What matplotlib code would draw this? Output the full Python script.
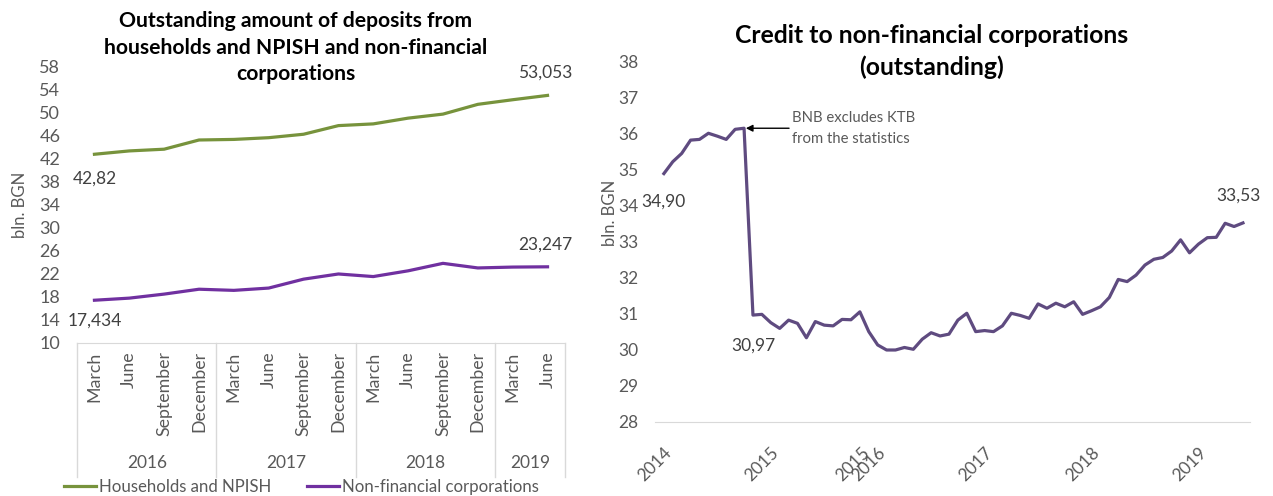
import matplotlib.pyplot as plt
import matplotlib.transforms as mtransforms
import numpy as np

plt.rcParams['font.family'] = ['Lato', 'DejaVu Sans']

# quarterly deposits, bln. BGN
quarters = ['March', 'June', 'September', 'December'] * 3 + ['March', 'June']
years = ['2016', '2017', '2018', '2019']
year_sizes = [4, 4, 4, 2]
households = [42.82, 43.4, 43.7, 45.3, 45.4, 45.7, 46.3, 47.8, 48.1, 49.1, 49.8, 51.5, 52.3, 53.053]
nfc_deposits = [17.434, 17.8, 18.5, 19.35, 19.15, 19.55, 21.1, 22.0, 21.55, 22.55, 23.85, 23.05, 23.2, 23.247]

# monthly credit to non-financial corporations, Jan 2014 - Jun 2019
credit_nfc = [34.90, 35.23, 35.46, 35.83, 35.85, 36.02, 35.94, 35.85, 36.13, 36.16,
              30.97, 30.99, 30.76, 30.60, 30.83, 30.74, 30.34, 30.79, 30.69, 30.67,
              30.85, 30.84, 31.06, 30.51, 30.14, 30.00, 30.00, 30.07, 30.02, 30.30,
              30.48, 30.39, 30.44, 30.83, 31.02, 30.51, 30.54, 30.51, 30.67, 31.02,
              30.96, 30.88, 31.28, 31.16, 31.30, 31.20, 31.34, 30.99, 31.09, 31.20,
              31.46, 31.96, 31.90, 32.08, 32.36, 32.52, 32.57, 32.75, 33.06, 32.70,
              32.94, 33.12, 33.13, 33.52, 33.43, 33.53]
credit_ticks = [0, 12, 22.2, 24, 36, 48, 60]
credit_tick_labels = ['2014', '2015', '2015', '2016', '2017', '2018', '2019']
break_idx = 9

GREEN = '#77933c'
PURPLE = '#7030a0'
DARK_PURPLE = '#5f4b80'
GRAY = '#595959'
LABEL = '#404040'
GRID = '#d9d9d9'


def comma(v, nd):
    return f'{v:.{nd}f}'.replace('.', ',')


fig = plt.figure(figsize=(12.73, 4.96), dpi=100)

# ---- left: deposits
ax1 = fig.add_axes([0.0605, 0.3085, 0.3833, 0.5565])
x = np.arange(len(households))
ax1.plot(x, households, color=GREEN, lw=2.3, label='Households and NPISH')
ax1.plot(x, nfc_deposits, color=PURPLE, lw=2.3, label='Non-financial corporations')
ax1.set_xlim(-0.5, len(households) - 0.5)
ax1.set_ylim(10, 58)
ax1.set_yticks(np.arange(10, 59, 4))
ax1.set_xticks(x)
ax1.set_xticklabels(quarters, rotation=90, va='top', ha='center')
ax1.tick_params(axis='x', length=0, pad=6, labelsize=12.8, labelcolor=GRAY)
ax1.tick_params(axis='y', length=0, pad=12, labelsize=13, labelcolor=GRAY)
for s in ['top', 'right', 'left']:
    ax1.spines[s].set_visible(False)
ax1.spines['bottom'].set_color(GRID)

trans = mtransforms.blended_transform_factory(ax1.transData, ax1.transAxes)
edges = np.concatenate([[0], np.cumsum(year_sizes)]) - 0.5
for e in edges:
    ax1.plot([e, e], [0, -0.485], transform=trans, color=GRID, lw=1, clip_on=False)
for yr, a, b in zip(years, edges[:-1], edges[1:]):
    ax1.text((a + b) / 2, -0.435, yr, transform=trans, ha='center', va='center',
             fontsize=12.5, color=GRAY)

ax1.annotate(comma(households[0], 2), (x[0], households[0]),
             xytext=(0, -24), textcoords='offset pixels', ha='center', va='center',
             fontsize=12.5, color=LABEL)
ax1.annotate(comma(households[-1], 3), (x[-1], households[-1]),
             xytext=(-2, 23), textcoords='offset pixels', ha='center', va='center',
             fontsize=12.5, color=LABEL)
ax1.annotate(comma(nfc_deposits[0], 3), (x[0], nfc_deposits[0]),
             xytext=(0, -20), textcoords='offset pixels', ha='center', va='center',
             fontsize=12.5, color=LABEL)
ax1.annotate(comma(nfc_deposits[-1], 3), (x[-1], nfc_deposits[-1]),
             xytext=(-2, 22), textcoords='offset pixels', ha='center', va='center',
             fontsize=12.5, color=LABEL)

fig.text(0.2321, 0.904, 'Outstanding amount of deposits from\nhouseholds and NPISH and non-financial\ncorporations',
         ha='center', va='center', fontsize=15.2, fontweight='bold', linespacing=1.42)
fig.text(20 / 1273, 1 - 205 / 496, 'bln. BGN', rotation=90, ha='center', va='center',
         fontsize=12, color=GRAY)
fig.legend(loc='center', bbox_to_anchor=(0.237, 0.018), ncol=2, frameon=False,
           fontsize=12.1, handlelength=1.9, columnspacing=2.1, handletextpad=0.2,
           labelcolor=GRAY)

# ---- right: credit
ax2 = fig.add_axes([0.5145, 0.1492, 0.4675, 0.7258])
m = np.arange(len(credit_nfc))
ax2.plot(m, credit_nfc, color=DARK_PURPLE, lw=2.3)
ax2.set_xlim(-1.0, len(credit_nfc) - 0.2)
ax2.set_ylim(28, 38)
ax2.set_yticks(np.arange(28, 39, 1))
ax2.set_xticks(credit_ticks)
ax2.set_xticklabels(credit_tick_labels, rotation=45, ha='right', va='top', rotation_mode='anchor')
ax2.tick_params(axis='x', length=0, pad=16, labelsize=12.5, labelcolor=GRAY)
ax2.tick_params(axis='y', length=0, pad=12, labelsize=12.5, labelcolor=GRAY)
for s in ['top', 'right', 'left']:
    ax2.spines[s].set_visible(False)
ax2.spines['bottom'].set_color(GRID)

last = len(credit_nfc) - 1
ax2.annotate(comma(credit_nfc[0], 2), (m[0], credit_nfc[0]),
             xytext=(0, -28), textcoords='offset pixels', ha='center', va='center',
             fontsize=12.5, color=LABEL)
ax2.annotate(comma(credit_nfc[break_idx + 1], 2), (m[break_idx + 1], credit_nfc[break_idx + 1]),
             xytext=(0, -31), textcoords='offset pixels', ha='center', va='center',
             fontsize=12.5, color=LABEL)
ax2.annotate(comma(credit_nfc[last], 2), (m[last], credit_nfc[last]),
             xytext=(-4, 27), textcoords='offset pixels', ha='center', va='center',
             fontsize=12.5, color=LABEL)
ax2.annotate('BNB excludes KTB\nfrom the statistics', (m[break_idx] + 0.2, credit_nfc[break_idx]),
             xytext=(46, 0), textcoords='offset pixels', ha='left', va='center',
             fontsize=10.7, color=GRAY, linespacing=1.6,
             arrowprops=dict(arrowstyle='-|>', color='black', lw=1, shrinkA=0, shrinkB=0,
                             mutation_scale=10))

fig.text(0.7317, 0.896, 'Credit to non-financial corporations\n(outstanding)',
         ha='center', va='center', fontsize=17.8, fontweight='bold', linespacing=1.45)
fig.text(610 / 1273, 1 - 213 / 496, 'bln. BGN', rotation=90, ha='center', va='center',
         fontsize=12, color=GRAY)

fig.savefig('out.png', dpi=100)
